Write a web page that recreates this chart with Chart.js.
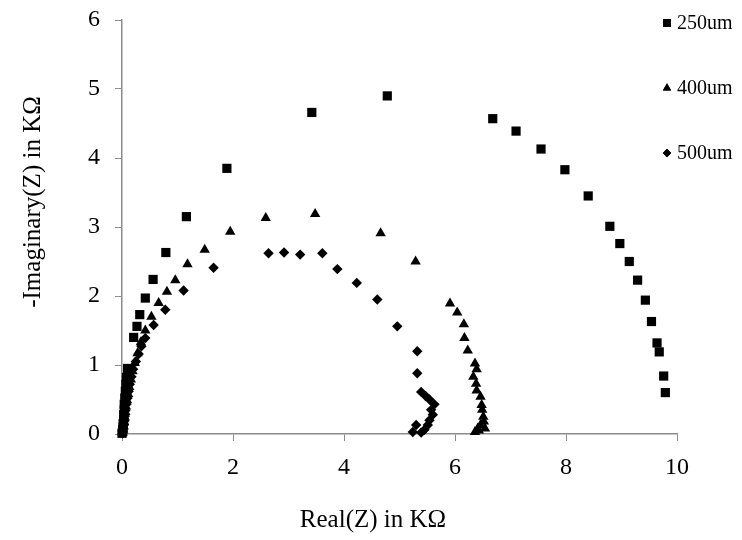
<!DOCTYPE html>
<html>
<head>
<meta charset="utf-8">
<script src="https://cdn.jsdelivr.net/npm/chart.js@4.4.1/dist/chart.umd.min.js"></script>
<style>
  html,body{margin:0;padding:0;background:#fff;}
  #wrap{width:742px;height:540px;position:relative;}
</style>
</head>
<body>
<div id="wrap"><canvas id="nyquist"></canvas></div>
<script>
// Nyquist plot: Real(Z) vs -Imaginary(Z), both in kOhm
const seriesNames = ['250um', '400um', '500um'];
const xTicks = [0, 2, 4, 6, 8, 10];
const yTicks = [0, 1, 2, 3, 4, 5, 6];

const real250 = [0.00,0.01,0.01,0.02,0.02,0.03,0.03,0.04,0.04,0.05,0.06,0.07,0.08,0.10,
  0.21,0.27,0.32,0.42,0.56,0.79,1.16,1.89,3.42,4.78,6.68,7.10,7.55,7.98,8.40,8.79,8.97,
  9.14,9.29,9.43,9.54,9.64,9.68,9.76,9.79];
const imag250 = [0.01,0.03,0.06,0.10,0.15,0.21,0.28,0.35,0.43,0.52,0.62,0.72,0.82,0.95,
  1.40,1.56,1.73,1.97,2.24,2.63,3.15,3.85,4.66,4.90,4.57,4.39,4.13,3.83,3.45,3.01,2.76,
  2.50,2.23,1.94,1.63,1.32,1.19,0.84,0.60];

const real400 = [0.01,0.02,0.03,0.04,0.05,0.06,0.07,0.09,0.11,0.13,0.16,0.19,0.23,0.28,
  0.34,0.42,0.53,0.66,0.81,0.96,1.18,1.49,1.95,2.59,3.48,4.66,5.29,5.91,6.04,6.16,6.17,
  6.23,6.36,6.39,6.33,6.38,6.39,6.46,6.48,6.49,6.51,6.52,6.46,6.41,6.36,6.43,6.54];
const imag400 = [0.02,0.06,0.11,0.17,0.24,0.32,0.40,0.49,0.58,0.68,0.79,0.91,1.03,1.17,
  1.33,1.50,1.70,1.90,2.06,2.23,2.46,2.67,2.93,3.13,3.19,2.91,2.50,1.89,1.76,1.59,1.39,
  1.21,1.02,0.94,0.83,0.73,0.63,0.54,0.42,0.35,0.25,0.18,0.13,0.08,0.03,0.05,0.08];

const real500 = [0.01,0.01,0.02,0.03,0.04,0.05,0.06,0.08,0.10,0.12,0.14,0.17,0.20,0.25,
  0.30,0.35,0.42,0.57,0.78,1.11,1.65,2.64,2.92,3.21,3.61,3.88,4.23,4.60,4.96,5.32,5.32,
  5.39,5.47,5.54,5.63,5.57,5.60,5.54,5.51,5.45,5.39,5.30,5.24];
const imag500 = [0.01,0.04,0.08,0.13,0.19,0.26,0.34,0.43,0.52,0.62,0.72,0.83,0.94,1.05,
  1.16,1.27,1.39,1.58,1.80,2.08,2.41,2.62,2.63,2.60,2.62,2.39,2.19,1.95,1.56,1.20,0.88,
  0.61,0.55,0.50,0.43,0.35,0.28,0.20,0.13,0.06,0.02,0.13,0.03];

const toPts = (xs, ys) => xs.map((x, i) => ({x: x, y: ys[i]}));

const FONT = "'Times New Roman', 'Liberation Serif', serif";
const AXIS_GREY = '#8c8c8c';

// legend drawn by hand: Excel puts it at the top right, overlapping the plot
const legendPlugin = {
  id: 'sideLegend',
  afterDraw(chart) {
    const ctx = chart.ctx;
    ctx.save();
    ctx.font = '20px ' + FONT;
    ctx.textBaseline = 'middle';
    chart.data.datasets.forEach((ds, i) => {
      const y = 23 + i * 65;
      ctx.fillStyle = '#000';
      ctx.strokeStyle = '#000';
      Chart.helpers.drawPoint(ctx, {pointStyle: ds.pointStyle, radius: ds.legendRadius, borderWidth: 0}, 667, y);
      ctx.fill();
      ctx.fillText(ds.label, 677, y + 1);
    });
    ctx.restore();
  }
};

const axisTitles = {
  id: 'axisTitles',
  afterDraw(chart) {
    const ctx = chart.ctx;
    ctx.save();
    ctx.font = '25px ' + FONT;
    ctx.fillStyle = '#000';
    ctx.textAlign = 'center';
    ctx.textBaseline = 'middle';
    ctx.fillText('Real(Z) in KΩ', 373, 520);
    ctx.translate(33, 202);
    ctx.rotate(-Math.PI / 2);
    ctx.fillText('-Imaginary(Z) in KΩ', 0, 0);
    ctx.restore();
  }
};

new Chart(document.getElementById('nyquist'), {
  type: 'scatter',
  data: {
    datasets: [
      {label: seriesNames[0], data: toPts(real250, imag250), pointStyle: 'rect', pointRadius: 6.5, legendRadius: 5.6},
      {label: seriesNames[1], data: toPts(real400, imag400), pointStyle: 'triangle', pointRadius: 6, legendRadius: 4.8},
      {label: seriesNames[2], data: toPts(real500, imag500), pointStyle: 'rectRot', pointRadius: 5.2, legendRadius: 4.2},
    ].map(d => Object.assign(d, {
      backgroundColor: '#000', borderColor: '#000', pointBorderWidth: 0,
      pointHoverRadius: d.pointRadius, clip: false
    }))
  },
  options: {
    responsive: true,
    maintainAspectRatio: false,
    animation: false,
    layout: {padding: {top: 20, right: 65, bottom: 0, left: 0}},
    plugins: {legend: {display: false}, tooltip: {enabled: false}},
    scales: {
      x: {
        type: 'linear', min: 0, max: 10,
        afterBuildTicks: s => { s.ticks = xTicks.map(v => ({value: v})); },
        afterFit: s => { s.height = 106; s.paddingLeft = 0; s.paddingRight = 0; },
        grid: {drawOnChartArea: false, drawTicks: true, tickLength: 7, color: AXIS_GREY},
        border: {color: AXIS_GREY, width: 1.5},
        ticks: {color: '#000', padding: 12, maxRotation: 0, font: {family: FONT, size: 24}}
      },
      y: {
        type: 'linear', min: 0, max: 6,
        afterBuildTicks: s => { s.ticks = yTicks.map(v => ({value: v})); },
        afterFit: s => { s.width = 122; s.paddingTop = 0; s.paddingBottom = 0; },
        grid: {drawOnChartArea: false, drawTicks: true, tickLength: 7, color: AXIS_GREY},
        border: {color: AXIS_GREY, width: 1.5},
        ticks: {color: '#000', padding: 15, font: {family: FONT, size: 24}}
      }
    }
  },
  plugins: [legendPlugin, axisTitles]
});
</script>
</body>
</html>
